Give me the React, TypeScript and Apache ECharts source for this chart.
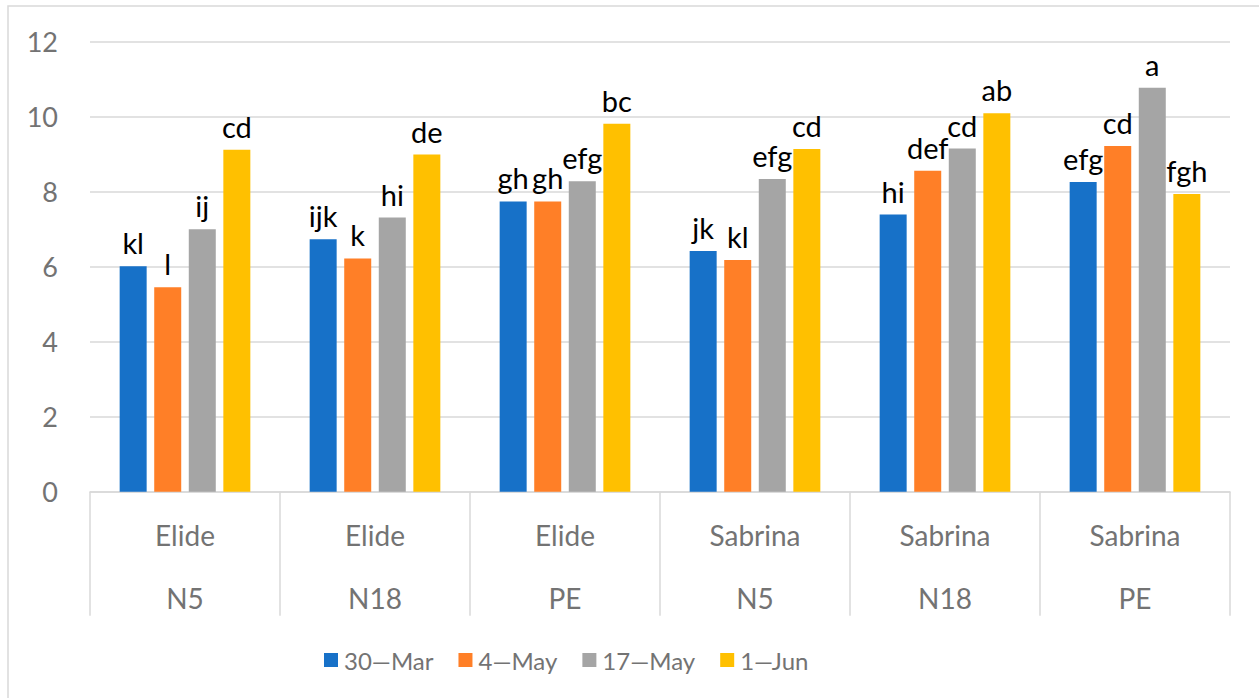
import React, { useEffect, useRef } from "react";
import * as echarts from "echarts";

const varieties = ["Elide", "Elide", "Elide", "Sabrina", "Sabrina", "Sabrina"];
const treatments = ["N5", "N18", "PE", "N5", "N18", "PE"];
const seriesNames = ["30—Mar", "4—May", "17—May", "1—Jun"];
const seriesColors = ["#1771C8", "#FF7F27", "#A5A5A5", "#FFC000"];

const mar30 = [6.01, 6.73, 7.74, 6.42, 7.39, 8.26];
const may4 = [5.45, 6.22, 7.74, 6.18, 8.56, 9.22];
const may17 = [7.0, 7.31, 8.28, 8.34, 9.15, 10.77];
const jun1 = [9.12, 8.99, 9.81, 9.14, 10.09, 7.94];

const mar30Letters = ["kl", "ijk", "gh", "jk", "hi", "efg"];
const may4Letters = ["l", "k", "gh", "kl", "def", "cd"];
const may17Letters = ["ij", "hi", "efg", "efg", "cd", "a"];
const jun1Letters = ["cd", "de", "bc", "cd", "ab", "fgh"];

const yTicks = [0, 2, 4, 6, 8, 10, 12];

const FONT = "Lato, 'Open Sans', sans-serif";

export default function App() {
  const ref = useRef<HTMLDivElement>(null);

  useEffect(() => {
    if (!ref.current) return;
    const chart = echarts.init(ref.current, undefined, { renderer: "svg" });
    const categories = varieties.map((v, i) => `${v}\n${treatments[i]}`);
    const valuesList = [mar30, may4, may17, jun1];
    const lettersList = [mar30Letters, may4Letters, may17Letters, jun1Letters];

    const series = seriesNames.map((name, si) => ({
      name,
      type: "bar",
      barWidth: 27,
      barGap: "28%",
      itemStyle: { color: seriesColors[si] },
      label: {
        show: true,
        position: "top",
        distance: 9,
        color: "#000",
        fontSize: 29,
        fontFamily: FONT,
        formatter: (p: any) => lettersList[si][p.dataIndex],
      },
      data: valuesList[si],
    }));

    chart.setOption({
      animation: false,
      backgroundColor: "#fff",
      textStyle: { fontFamily: FONT },
      graphic: [
        {
          type: "rect",
          shape: { x: 8, y: 6, width: 1400, height: 900 },
          style: { fill: "none", stroke: "#d9d9d9", lineWidth: 1.5 },
          silent: true,
        },
      ],
      grid: { left: 90, right: 29, top: 41.7, bottom: 206.3, containLabel: false },
      legend: {
        data: seriesNames,
        top: 643,
        left: 319,
        itemWidth: 14,
        itemHeight: 14,
        itemGap: 25,
        icon: "rect",
        textStyle: { color: "#737373", fontSize: 24, fontFamily: FONT, padding: [0, 0, 0, 1] },
      },
      xAxis: {
        type: "category",
        data: categories,
        boundaryGap: true,
        axisLine: { show: true, lineStyle: { color: "#d9d9d9", width: 1.5 } },
        axisTick: { show: true, length: 124, lineStyle: { color: "#d9d9d9", width: 1.5 } },
        axisLabel: {
          color: "#737373",
          fontSize: 28,
          fontFamily: FONT,
          lineHeight: 63,
          margin: 12,
          interval: 0,
        },
      },
      yAxis: {
        type: "value",
        min: 0,
        max: 12,
        interval: 2,
        axisLine: { show: false },
        axisTick: { show: false },
        axisLabel: {
          color: "#737373",
          fontSize: 27,
          fontFamily: FONT,
          margin: 32,
          formatter: (v: number) => (yTicks.includes(v) ? String(v) : ""),
        },
        splitLine: { lineStyle: { color: "#d9d9d9", width: 1.5 } },
      },
      series,
    });

    return () => chart.dispose();
  }, []);

  return (
    <div
      ref={ref}
      style={{ position: "fixed", left: 0, top: 0, width: 1259, height: 698 }}
    />
  );
}
